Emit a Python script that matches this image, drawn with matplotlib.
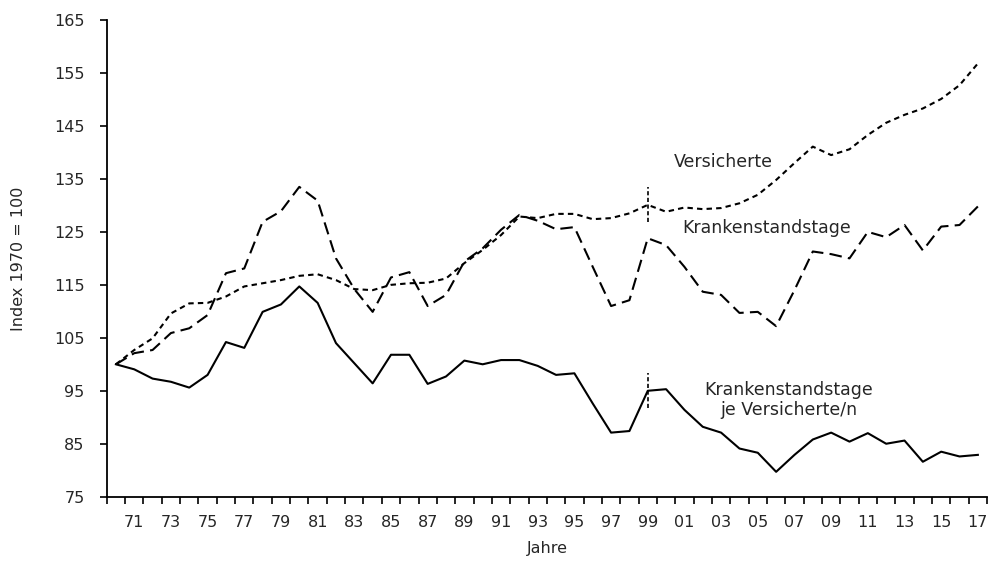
import matplotlib
matplotlib.use("Agg")
import matplotlib.pyplot as plt
import numpy as np

years = list(range(1970, 2018))
year_labels = ["71", "73", "75", "77", "79", "81", "83", "85", "87", "89", "91", "93",
               "95", "97", "99", "01", "03", "05", "07", "09", "11", "13", "15", "17"]

versicherte = [100, 102.7, 104.9, 109.6, 111.5, 111.6, 112.8, 114.7, 115.3, 115.9,
               116.7, 117.0, 115.9, 114.2, 114.0, 115.0, 115.3, 115.4, 116.2, 119.1,
               121.6, 124.4, 127.9, 127.6, 128.4, 128.4, 127.4, 127.6, 128.5, 130.1,
               128.8, 129.6, 129.3, 129.5, 130.4, 132.0, 134.8, 138.0, 141.1, 139.5,
               140.6, 143.3, 145.6, 147.1, 148.3, 150.1, 152.7, 156.8]

krankenstandstage = [100, 102.1, 102.7, 105.9, 106.8, 109.3, 117.2, 118.1, 126.9, 128.9,
                     133.5, 130.9, 120.0, 114.2, 109.9, 116.4, 117.4, 111.0, 113.1, 119.4,
                     121.9, 125.4, 128.2, 127.1, 125.5, 125.9, 118.4, 111.0, 112.1, 123.8,
                     122.5, 118.4, 113.7, 113.1, 109.7, 109.9, 107.2, 114.0, 121.3, 120.8,
                     120.0, 125.0, 124.0, 126.3, 121.5, 126.0, 126.3, 129.8]

je_versicherte = [100, 99.05, 97.3, 96.7, 95.6, 98.0, 104.2, 103.1, 109.9, 111.3,
                  114.7, 111.6, 104.0, 100.2, 96.4, 101.8, 101.8, 96.3, 97.7, 100.7,
                  100.0, 100.8, 100.8, 99.7, 98.0, 98.3, 92.6, 87.1, 87.4, 95.0,
                  95.3, 91.4, 88.2, 87.1, 84.1, 83.3, 79.7, 82.9, 85.8, 87.1,
                  85.4, 87.0, 85.0, 85.6, 81.6, 83.5, 82.6, 82.9]

break_year = 1999
break_half = 3.3

font = ["DejaVu Sans"]
tc = "#262626"
fs = 11.5

fig = plt.figure(figsize=(9.91, 5.61), dpi=100)
ax = fig.add_axes([0.1077, 0.1146, 0.8883, 0.8497])

x = np.arange(len(years))
lw = 1.5
ax.plot(x, versicherte, color="black", lw=lw, dashes=(2.6, 2.0))
ax.plot(x, krankenstandstage, color="black", lw=lw, dashes=(6.0, 3.0))
ax.plot(x, je_versicherte, color="black", lw=lw)

bi = years.index(break_year)
for series in (versicherte, je_versicherte):
    v = series[bi]
    ax.plot([bi, bi], [v - break_half, v + break_half], color="black", lw=1.2,
            dashes=(2.5, 1.5))

ax.set_xlim(-0.5, len(years) - 0.5)
ax.set_ylim(75, 165)
ax.set_yticks(np.arange(75, 166, 10))
ax.set_xticks(np.arange(-0.5, len(years), 1.0))
ax.set_xticklabels([])
label_pos = [years.index(1900 + int(l)) if int(l) > 50 else years.index(2000 + int(l))
             for l in year_labels]
ax.set_xticks(label_pos, minor=True)
ax.set_xticklabels(year_labels, minor=True)
ax.tick_params(axis="x", which="minor", length=0, pad=13, labelsize=fs, labelcolor=tc)
ax.tick_params(axis="x", which="major", length=5, width=1.2, direction="out")
ax.tick_params(axis="y", length=5, width=1.2, direction="out", labelsize=fs,
               labelcolor=tc, pad=11)
for lab in ax.get_xticklabels(minor=True) + ax.get_yticklabels():
    lab.set_family(font)

for s in ("top", "right"):
    ax.spines[s].set_visible(False)
for s in ("left", "bottom"):
    ax.spines[s].set_linewidth(1.3)

ax.set_ylabel("Index 1970 = 100", fontsize=fs, color=tc, family=font, labelpad=20)
ax.set_xlabel("Jahre", fontsize=fs, color=tc, family=font, labelpad=8)

lfs = 12.5
ax.text(33.1, 138.2, "Versicherte", fontsize=lfs, color=tc, family=font,
        ha="center", va="center")
ax.text(35.5, 125.7, "Krankenstandstage", fontsize=lfs, color=tc, family=font,
        ha="center", va="center")
ax.text(36.7, 93.3, "Krankenstandstage\nje Versicherte/n", fontsize=lfs,
        color=tc, family=font, ha="center", va="center", linespacing=1.15)

fig.savefig("out.png", dpi=100)
